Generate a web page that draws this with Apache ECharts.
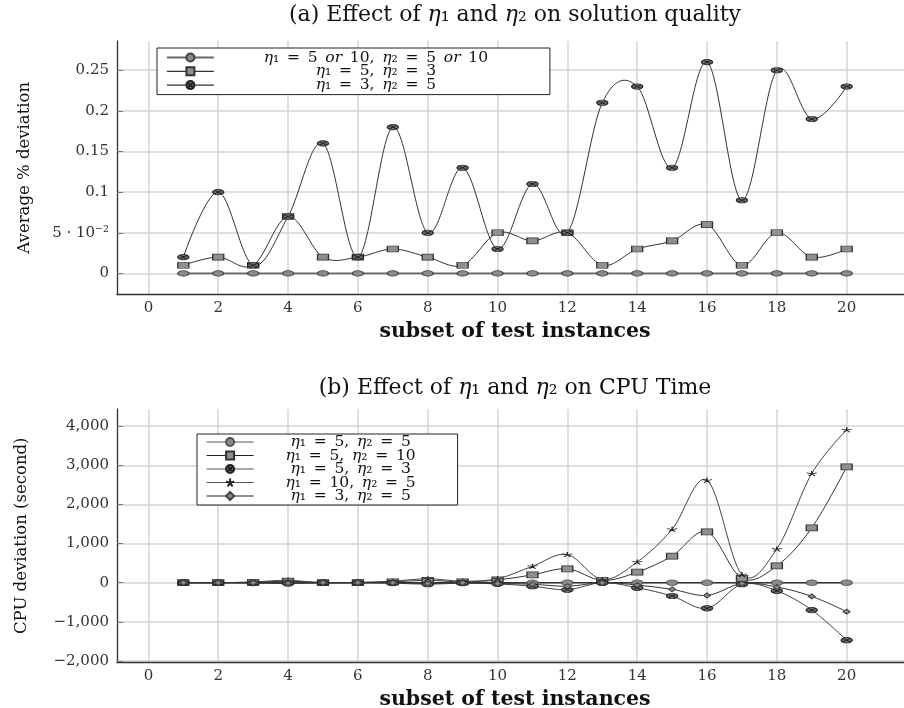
<!DOCTYPE html>
<html><head><meta charset="utf-8">
<script src="https://cdn.jsdelivr.net/npm/echarts@6/dist/echarts.min.js"></script>
<style>html,body{margin:0;padding:0;background:#fff}#c{width:904px;height:708px}</style>
</head><body><div id="c"></div>
<script>
// ---------- data ----------
const instances = [1,2,3,4,5,6,7,8,9,10,11,12,13,14,15,16,17,18,19,20];
// (a) solution quality
const qualEta5or10 = [0,0,0,0,0,0,0,0,0,0,0,0,0,0,0,0,0,0,0,0];
const qualEta5_3   = [0.01,0.02,0.01,0.07,0.02,0.02,0.03,0.02,0.01,0.05,0.04,0.05,0.01,0.03,0.04,0.06,0.01,0.05,0.02,0.03];
const qualEta3_5   = [0.02,0.10,0.01,0.07,0.16,0.02,0.18,0.05,0.13,0.03,0.11,0.05,0.21,0.23,0.13,0.26,0.09,0.25,0.19,0.23];
// (b) CPU time
const cpuEta5_5    = [0,0,0,0,0,0,0,0,0,0,0,0,0,0,0,0,0,0,0,0];
const cpuEta5_10   = [0,0,10,40,0,0,20,60,20,70,200,355,60,270,680,1300,110,430,1400,2960];
const cpuEta5_3    = [0,0,-10,-20,0,0,-10,-40,-10,-30,-90,-180,0,-130,-340,-655,-40,-210,-700,-1470];
const cpuEta10_5   = [0,0,20,60,0,10,40,100,40,100,420,720,80,530,1365,2620,210,860,2790,3910];
const cpuEta3_5    = [0,0,0,-10,0,0,0,-20,0,-20,-40,-90,0,-60,-170,-325,-20,-110,-350,-740];
// ticks
const xTicks = [0,2,4,6,8,10,12,14,16,18,20];
const yTicksA = [0,0.05,0.1,0.15,0.2,0.25];
const yTickLabelsA = ['0','5 · 10⁻²','0.1','0.15','0.2','0.25'];
const yTicksB = [-2000,-1000,0,1000,2000,3000,4000];
const yTickLabelsB = ['−2,000','−1,000','0','1,000','2,000','3,000','4,000'];
// labels
const titleA = ['(a) Effect of ', 'η', '₁', ' and ', 'η', '₂', ' on solution quality'];
const titleB = ['(b) Effect of ', 'η', '₁', ' and ', 'η', '₂', ' on CPU Time'];
const legendText = {
  qa: ['η','₁ = 5 ','or',' 10, ','η','₂ = 5 ','or',' 10'],
  qb: ['η','₁ = 5, ','η','₂ = 3'],
  qc: ['η','₁ = 3, ','η','₂ = 5'],
  ca: ['η','₁ = 5, ','η','₂ = 5'],
  cb: ['η','₁ = 5, ','η','₂ = 10'],
  cc: ['η','₁ = 5, ','η','₂ = 3'],
  cd: ['η','₁ = 10, ','η','₂ = 5'],
  ce: ['η','₁ = 3, ','η','₂ = 5']
};

const FONT = 'DejaVu Serif';
const pairs = ys => instances.map((x,i)=>[x, ys[i]]);

function rich(parts, wide){
  return parts.map(p => {
    if (p==='η'||p==='or') return '{e|'+p+'}';
    let s = p;
    if (wide) s = s.replace(/ /g, '\u2002');
    return '{n|'+s+'}';
  }).join('');
}

const OTIMES = 'path://M0,5A5,5 0 1,1 10,5A5,5 0 1,1 0,5ZM1.6,1.6L8.4,8.4M8.4,1.6L1.6,8.4';
const STAR = 'path://M5,5L5,0M5,5L9.76,3.45M5,5L7.94,9.05M5,5L2.06,9.05M5,5L0.24,3.45';

function labelFmt(ticks, labels){
  return v => { for (let i=0;i<ticks.length;i++) if (Math.abs(ticks[i]-v) < 1e-9*Math.max(1,Math.abs(v))) return labels[i]; return ''; };
}

function xAxisCfg(grid){
  return {
    type:'value', gridIndex:grid, min:-0.9, max:21.9,
    name:'subset of test instances', nameLocation:'middle', nameGap: 27,
    nameTextStyle:{fontFamily:FONT, fontWeight:'bold', fontSize:20.5, color:'#111'},
    axisLine:{show:true, onZero:false, lineStyle:{color:'#333', width:1.3}},
    axisTick:{show:false, customValues:xTicks},
    axisLabel:{customValues:xTicks, fontFamily:FONT, fontSize:15, color:'#333', margin:6},
    splitLine:{show:true, lineStyle:{color:'#d4d4d4', width:1.5}}
  };
}
function yAxisCfg(grid, min, max, ticks, labels, name, gap){
  return {
    type:'value', gridIndex:grid, min:min, max:max,
    name:name, nameLocation:'middle', nameGap:gap,
    nameTextStyle:{fontFamily:FONT, fontSize:16.5, color:'#111'},
    axisLine:{show:true, onZero:false, lineStyle:{color:'#333', width:1.3}},
    axisTick:{show:true, inside:true, length:6, customValues:ticks, lineStyle:{color:'#777'}},
    axisLabel:{customValues:ticks, formatter:labelFmt(ticks, labels), fontFamily:FONT, fontSize:15, color:'#333', margin:8},
    splitLine:{show:true, lineStyle:{color:'#d4d4d4', width:1.5}}
  };
}

// TikZ-like smooth curve (tension ~0.55) drawn through the axis scales
function curveSeries(grid, ys, color, width){
  const K = 0.17;
  return {
    type:'custom', xAxisIndex:grid, yAxisIndex:grid, data:pairs(ys), silent:true, z:1,
    animation:false,
    renderItem:function(params, api){
      const i = params.dataIndex, n = ys.length;
      if (i >= n-1) return null;
      const P = j => api.coord([instances[j], ys[j]]);
      const p0 = P(i), p1 = P(i+1);
      let c1 = p0.slice(), c2 = p1.slice();
      if (i > 0) { const a = P(i-1); c1 = [p0[0] + K*(p1[0]-a[0]), p0[1] + K*(p1[1]-a[1])]; }
      if (i+2 < n) { const b = P(i+2); c2 = [p1[0] - K*(b[0]-p0[0]), p1[1] - K*(b[1]-p0[1])]; }
      return {type:'bezierCurve',
        shape:{x1:p0[0],y1:p0[1],x2:p1[0],y2:p1[1],cpx1:c1[0],cpy1:c1[1],cpx2:c2[0],cpy2:c2[1]},
        style:{stroke:color, lineWidth:width, fill:null}};
    }
  };
}
// markers (line series with invisible line, gives legend entry)
function markSeries(name, grid, ys, symbol, size, lineColor, fill, border){
  return {
    name:name, type:'line', xAxisIndex:grid, yAxisIndex:grid, data:pairs(ys),
    symbol:symbol, symbolSize:size, showSymbol:true,
    lineStyle:{color:lineColor, width:0},
    itemStyle:{color:fill, borderColor:border, borderWidth:1},
    emphasis:{disabled:true}, animation:false, z:3
  };
}

const LFS = 15.5;
const richStyles = {
  n:{fontFamily:FONT, fontSize:LFS, align:'center', color:'#111', lineHeight:13.6},
  e:{fontFamily:FONT, fontSize:LFS, fontStyle:'italic', align:'center', color:'#111', lineHeight:13.6}
};

function legendCfg(items, left, top, textW, padding, gap){
  return {
    data:items, orient:'vertical', left:left, top:top,
    itemWidth:47, itemHeight:10, itemGap:gap,
    padding:padding, borderColor:'#222', borderWidth:1, backgroundColor:'#fff',
    selectedMode:false,
    lineStyle:{width:1.2},
    formatter: n => rich(legendText[n], true),
    textStyle:{width:textW, lineHeight:13.6, fontFamily:FONT, fontSize:LFS, rich:richStyles}
  };
}

const titleRich = {
  n:{fontFamily:FONT, fontSize:22, fontWeight:'normal', color:'#111'},
  e:{fontFamily:FONT, fontSize:22, fontWeight:'normal', fontStyle:'italic', color:'#111'}
};

const option = {
  backgroundColor:'#fff',
  animation:false,
  title:[
    {text:rich(titleA), left:515, top:4, textAlign:'center', padding:0, textStyle:{fontWeight:'normal', rich:titleRich}},
    {text:rich(titleB), left:515, top:377, textAlign:'center', padding:0, textStyle:{fontWeight:'normal', rich:titleRich}}
  ],
  grid:[
    {left:117, top:41, width:796, height:253.5, outerBoundsMode:'none', containLabel:false},
    {left:117, top:409, width:796, height:253.5, outerBoundsMode:'none', containLabel:false}
  ],
  xAxis:[xAxisCfg(0), xAxisCfg(1)],
  yAxis:[
    yAxisCfg(0, -0.026, 0.286, yTicksA, yTickLabelsA, 'Average % deviation', 84),
    yAxisCfg(1, -2040, 4440, yTicksB, yTickLabelsB, 'CPU deviation (second)', 87)
  ],
  legend:[
    legendCfg([{name:'qa', lineStyle:{width:1.8}}, 'qb', 'qc'], 157, 48, 314, [1.5,17,1.5,9], -2.2),
    legendCfg(['ca','cb','cc','cd','ce'], 197, 434, 184, [0,15,1,9], -2.5)
  ],
  series:[
    curveSeries(0, qualEta5or10, '#666', 1.8),
    curveSeries(0, qualEta5_3, '#333', 1),
    curveSeries(0, qualEta3_5, '#333', 1),
    curveSeries(1, cpuEta5_5, '#333', 1.5),
    curveSeries(1, cpuEta5_10, '#333', 1),
    curveSeries(1, cpuEta5_3, '#444', 1),
    curveSeries(1, cpuEta10_5, '#444', 1),
    curveSeries(1, cpuEta3_5, '#333', 1),
    markSeries('qa', 0, qualEta5or10, 'circle', [11,5.5], '#666', '#8a8a8a', '#444'),
    markSeries('qb', 0, qualEta5_3, 'rect', [11,6], '#333', '#8f8f8f', '#333'),
    markSeries('qc', 0, qualEta3_5, OTIMES, [11,5.5], '#333', '#6f6f6f', '#222'),
    markSeries('ca', 1, cpuEta5_5, 'circle', [11,5.5], '#555', '#8a8a8a', '#555'),
    markSeries('cb', 1, cpuEta5_10, 'rect', [11,6], '#222', '#8f8f8f', '#333'),
    markSeries('cc', 1, cpuEta5_3, OTIMES, [11,5.5], '#555', '#6f6f6f', '#222'),
    markSeries('cd', 1, cpuEta10_5, STAR, [10,5], '#555', '#555', '#222'),
    markSeries('ce', 1, cpuEta3_5, 'diamond', [7,5], '#222', '#8a8a8a', '#444')
  ]
};
const chart = echarts.init(document.getElementById('c'), null, {renderer:'canvas'});
chart.setOption(option);
</script></body></html>
